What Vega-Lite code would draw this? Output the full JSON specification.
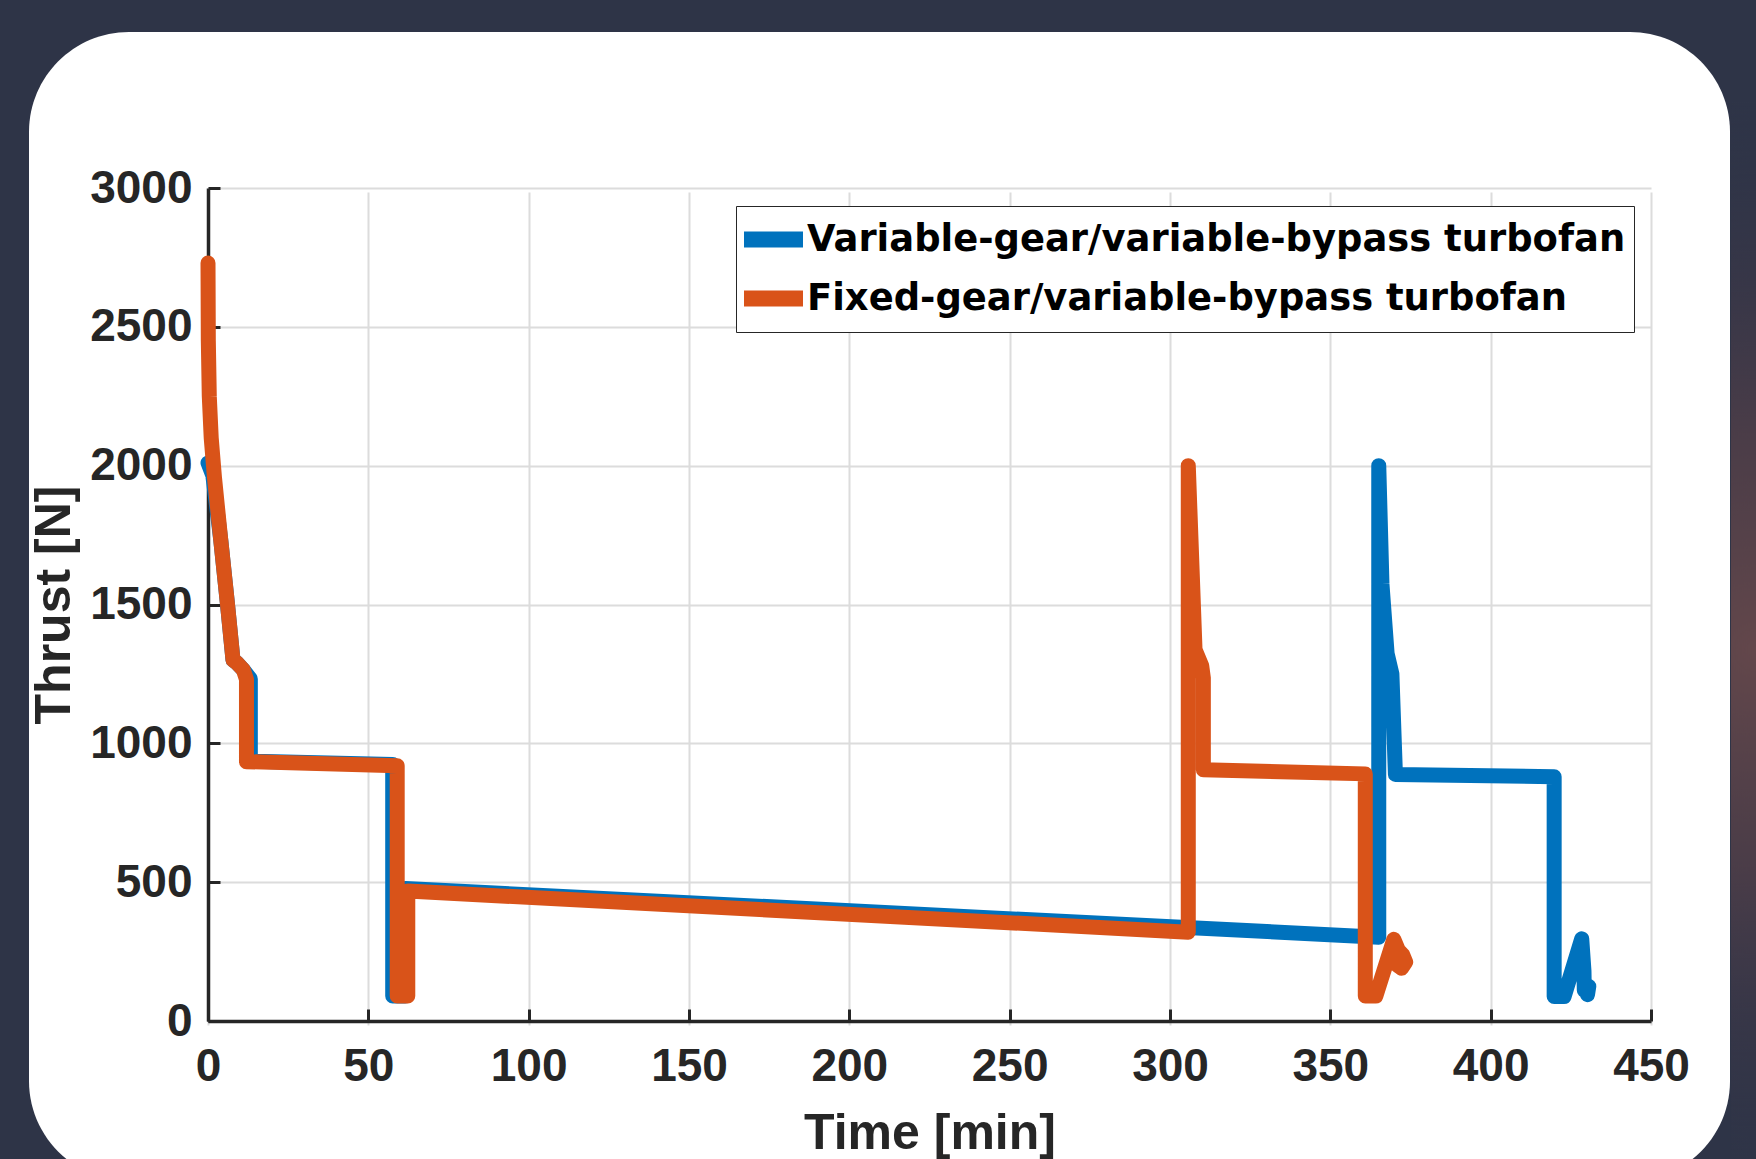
{
  "$schema": "https://vega.github.io/schema/vega-lite/v6.json",
  "width": 1701,
  "height": 1149,
  "autosize": {"type": "none"},
  "padding": {"left": 29, "top": 32, "right": 26, "bottom": -22},
  "background": "#2e3447",
  "datasets": {
    "thrust": [
      {"engine": "Variable-gear/variable-bypass turbofan", "i": 0, "time": 0, "thrust": 2010},
      {"engine": "Variable-gear/variable-bypass turbofan", "i": 1, "time": 1.5, "thrust": 1965},
      {"engine": "Variable-gear/variable-bypass turbofan", "i": 2, "time": 4, "thrust": 1730},
      {"engine": "Variable-gear/variable-bypass turbofan", "i": 3, "time": 6, "thrust": 1510},
      {"engine": "Variable-gear/variable-bypass turbofan", "i": 4, "time": 7.8, "thrust": 1300},
      {"engine": "Variable-gear/variable-bypass turbofan", "i": 5, "time": 9, "thrust": 1290},
      {"engine": "Variable-gear/variable-bypass turbofan", "i": 6, "time": 11, "thrust": 1265},
      {"engine": "Variable-gear/variable-bypass turbofan", "i": 7, "time": 13.2, "thrust": 1232},
      {"engine": "Variable-gear/variable-bypass turbofan", "i": 8, "time": 13.2, "thrust": 936},
      {"engine": "Variable-gear/variable-bypass turbofan", "i": 9, "time": 57.6, "thrust": 924},
      {"engine": "Variable-gear/variable-bypass turbofan", "i": 10, "time": 57.6, "thrust": 90},
      {"engine": "Variable-gear/variable-bypass turbofan", "i": 11, "time": 61.5, "thrust": 90},
      {"engine": "Variable-gear/variable-bypass turbofan", "i": 12, "time": 61.5, "thrust": 477},
      {"engine": "Variable-gear/variable-bypass turbofan", "i": 13, "time": 365.1, "thrust": 302},
      {"engine": "Variable-gear/variable-bypass turbofan", "i": 14, "time": 365.1, "thrust": 2000},
      {"engine": "Variable-gear/variable-bypass turbofan", "i": 15, "time": 366.1, "thrust": 1574},
      {"engine": "Variable-gear/variable-bypass turbofan", "i": 16, "time": 367.7, "thrust": 1324},
      {"engine": "Variable-gear/variable-bypass turbofan", "i": 17, "time": 369.2, "thrust": 1250},
      {"engine": "Variable-gear/variable-bypass turbofan", "i": 18, "time": 370.3, "thrust": 888},
      {"engine": "Variable-gear/variable-bypass turbofan", "i": 19, "time": 419.8, "thrust": 880},
      {"engine": "Variable-gear/variable-bypass turbofan", "i": 20, "time": 419.8, "thrust": 88},
      {"engine": "Variable-gear/variable-bypass turbofan", "i": 21, "time": 422.9, "thrust": 88},
      {"engine": "Variable-gear/variable-bypass turbofan", "i": 22, "time": 428.4, "thrust": 296},
      {"engine": "Variable-gear/variable-bypass turbofan", "i": 23, "time": 429.1, "thrust": 180},
      {"engine": "Variable-gear/variable-bypass turbofan", "i": 24, "time": 429.2, "thrust": 110},
      {"engine": "Variable-gear/variable-bypass turbofan", "i": 25, "time": 430.6, "thrust": 125},
      {"engine": "Variable-gear/variable-bypass turbofan", "i": 26, "time": 430.2, "thrust": 95},
      {"engine": "Fixed-gear/variable-bypass turbofan", "i": 0, "time": 0, "thrust": 2730},
      {"engine": "Fixed-gear/variable-bypass turbofan", "i": 1, "time": 0.1, "thrust": 2450},
      {"engine": "Fixed-gear/variable-bypass turbofan", "i": 2, "time": 0.4, "thrust": 2250},
      {"engine": "Fixed-gear/variable-bypass turbofan", "i": 3, "time": 1, "thrust": 2100},
      {"engine": "Fixed-gear/variable-bypass turbofan", "i": 4, "time": 2, "thrust": 1960},
      {"engine": "Fixed-gear/variable-bypass turbofan", "i": 5, "time": 4, "thrust": 1730},
      {"engine": "Fixed-gear/variable-bypass turbofan", "i": 6, "time": 6, "thrust": 1510},
      {"engine": "Fixed-gear/variable-bypass turbofan", "i": 7, "time": 7.8, "thrust": 1300},
      {"engine": "Fixed-gear/variable-bypass turbofan", "i": 8, "time": 9, "thrust": 1290},
      {"engine": "Fixed-gear/variable-bypass turbofan", "i": 9, "time": 11, "thrust": 1265},
      {"engine": "Fixed-gear/variable-bypass turbofan", "i": 10, "time": 12, "thrust": 1230},
      {"engine": "Fixed-gear/variable-bypass turbofan", "i": 11, "time": 12, "thrust": 934},
      {"engine": "Fixed-gear/variable-bypass turbofan", "i": 12, "time": 59, "thrust": 919},
      {"engine": "Fixed-gear/variable-bypass turbofan", "i": 13, "time": 59, "thrust": 90},
      {"engine": "Fixed-gear/variable-bypass turbofan", "i": 14, "time": 62.3, "thrust": 90},
      {"engine": "Fixed-gear/variable-bypass turbofan", "i": 15, "time": 62.3, "thrust": 468},
      {"engine": "Fixed-gear/variable-bypass turbofan", "i": 16, "time": 305.7, "thrust": 320},
      {"engine": "Fixed-gear/variable-bypass turbofan", "i": 17, "time": 305.7, "thrust": 2000},
      {"engine": "Fixed-gear/variable-bypass turbofan", "i": 18, "time": 307.8, "thrust": 1338},
      {"engine": "Fixed-gear/variable-bypass turbofan", "i": 19, "time": 309.9, "thrust": 1279},
      {"engine": "Fixed-gear/variable-bypass turbofan", "i": 20, "time": 310.4, "thrust": 1235},
      {"engine": "Fixed-gear/variable-bypass turbofan", "i": 21, "time": 310.4, "thrust": 905},
      {"engine": "Fixed-gear/variable-bypass turbofan", "i": 22, "time": 360.9, "thrust": 890},
      {"engine": "Fixed-gear/variable-bypass turbofan", "i": 23, "time": 360.9, "thrust": 90},
      {"engine": "Fixed-gear/variable-bypass turbofan", "i": 24, "time": 364.2, "thrust": 90},
      {"engine": "Fixed-gear/variable-bypass turbofan", "i": 25, "time": 369.8, "thrust": 294},
      {"engine": "Fixed-gear/variable-bypass turbofan", "i": 26, "time": 371.2, "thrust": 255},
      {"engine": "Fixed-gear/variable-bypass turbofan", "i": 27, "time": 372.6, "thrust": 238},
      {"engine": "Fixed-gear/variable-bypass turbofan", "i": 28, "time": 373.5, "thrust": 212},
      {"engine": "Fixed-gear/variable-bypass turbofan", "i": 29, "time": 372.2, "thrust": 190},
      {"engine": "Fixed-gear/variable-bypass turbofan", "i": 30, "time": 371, "thrust": 200}
    ]
  },
  "layer": [
    {
      "data": {"values": [{"glow": "right edge"}]},
      "mark": {
        "type": "rect",
        "clip": false,
        "fill": {
          "gradient": "radial",
          "x1": 0.4827, "y1": 0.5, "r1": 0,
          "x2": 0.4827, "y2": 0.5, "r2": 0.5,
          "stops": [
            {"offset": 0, "color": "rgba(102,72,75,0.95)"},
            {"offset": 0.4, "color": "rgba(86,64,72,0.7)"},
            {"offset": 0.75, "color": "rgba(64,56,72,0.3)"},
            {"offset": 1, "color": "rgba(46,52,71,0)"}
          ]
        }
      },
      "encoding": {
        "x": {"datum": 474.95, "type": "quantitative"},
        "x2": {"datum": 502.4},
        "y": {"datum": 3317, "type": "quantitative"},
        "y2": {"datum": -644.7}
      }
    },
    {
      "data": {"name": "thrust"},
      "transform": [{"filter": "datum.engine === 'Variable-gear/variable-bypass turbofan'"}],
      "mark": {"type": "line", "strokeWidth": 15, "strokeCap": "round", "strokeJoin": "round"},
      "encoding": {
        "x": {"field": "time", "type": "quantitative"},
        "y": {"field": "thrust", "type": "quantitative"},
        "order": {"field": "i", "type": "quantitative"},
        "color": {
          "field": "engine", "type": "nominal",
          "scale": {"domain": ["Variable-gear/variable-bypass turbofan", "Fixed-gear/variable-bypass turbofan"], "range": ["#0072BD", "#D95319"]}
        }
      }
    },
    {
      "data": {"name": "thrust"},
      "transform": [{"filter": "datum.engine === 'Fixed-gear/variable-bypass turbofan'"}],
      "mark": {"type": "line", "strokeWidth": 15, "strokeCap": "round", "strokeJoin": "round"},
      "encoding": {
        "x": {
          "field": "time", "type": "quantitative",
          "scale": {"domain": [0, 450], "range": [179, 1622], "nice": false, "zero": false},
          "axis": {
            "title": "Time [min]",
            "values": [0, 50, 100, 150, 200, 250, 300, 350, 400, 450],
            "format": "d",
            "offset": -160,
            "labelPadding": 35,
            "titlePadding": 19
          }
        },
        "y": {
          "field": "thrust", "type": "quantitative",
          "scale": {"domain": [0, 3000], "range": [989, 156], "nice": false},
          "axis": {
            "title": "Thrust [N]",
            "values": [0, 500, 1000, 1500, 2000, 2500, 3000],
            "format": "d",
            "offset": -179,
            "labelPadding": 28,
            "titlePadding": 10
          }
        },
        "order": {"field": "i", "type": "quantitative"},
        "color": {"field": "engine", "type": "nominal"}
      }
    }
  ],
  "resolve": {"legend": {"color": "shared"}},
  "config": {
    "view": {"stroke": null, "fill": "#ffffff", "cornerRadius": 100},
    "axis": {
      "grid": true,
      "gridColor": "#dcdcdc",
      "gridWidth": 2,
      "domainColor": "#262626",
      "domainWidth": 3.5,
      "tickColor": "#262626",
      "tickWidth": 3,
      "tickSize": -12,
      "labelFont": "Liberation Sans",
      "labelFontWeight": "bold",
      "labelFontSize": 46,
      "labelColor": "#262626",
      "labelFlush": false,
      "labelOverlap": false,
      "titleFont": "Liberation Sans",
      "titleFontWeight": "bold",
      "titleFontSize": 50,
      "titleColor": "#262626"
    },
    "legend": {
      "orient": "none",
      "legendX": 707,
      "legendY": 174,
      "title": null,
      "strokeColor": "#262626",
      "fillColor": "#ffffff",
      "padding": 8,
      "labelFont": "DejaVu Sans",
      "labelFontWeight": "bold",
      "labelFontSize": 36.9,
      "labelColor": "#000000",
      "labelLimit": 1200,
      "labelOffset": -4,
      "symbolOffset": -10,
      "rowPadding": 8,
      "clipHeight": 51,
      "symbolType": "stroke",
      "symbolStrokeWidth": 16,
      "symbolSize": 3721
    }
  }
}
